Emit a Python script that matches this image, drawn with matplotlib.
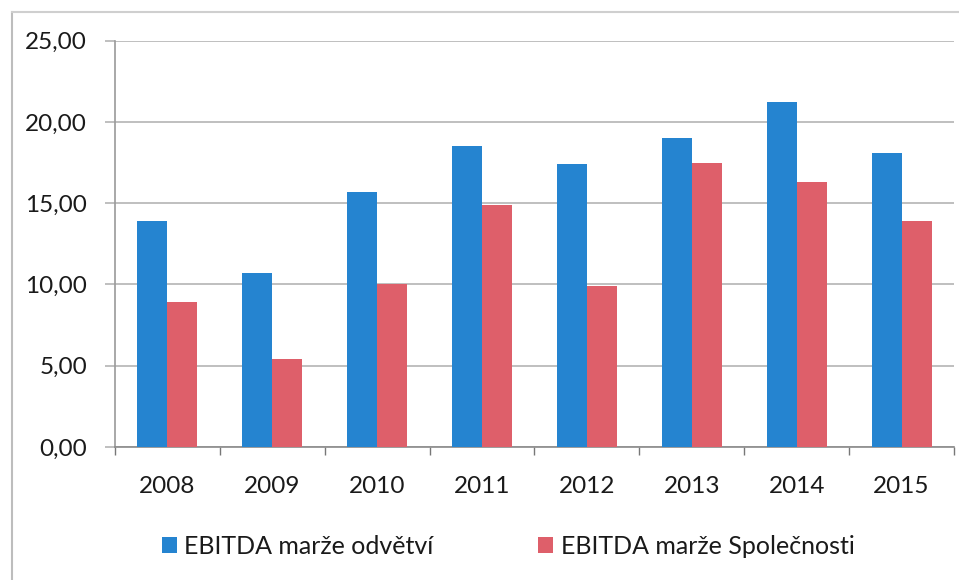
import matplotlib.pyplot as plt
import numpy as np
from matplotlib.lines import Line2D
from matplotlib.ticker import FuncFormatter

# data
years = ['2008', '2009', '2010', '2011', '2012', '2013', '2014', '2015']
odvetvi = [13.9, 10.7, 15.7, 18.5, 17.4, 19.0, 21.2, 18.1]
spolecnosti = [8.9, 5.4, 10.0, 14.9, 9.9, 17.5, 16.3, 13.9]
series_names = ['EBITDA marže odvětví', 'EBITDA marže Společnosti']

BLUE = '#2584d0'
RED = '#de5f6a'
GRID = '#b4b4b4'

plt.rcParams['font.family'] = ['Lato', 'DejaVu Sans']

fig = plt.figure(figsize=(9.59, 5.80), dpi=100)
ax = fig.add_axes([0.1199, 0.2293, 0.8749, 0.7005])

x = np.arange(len(years))
w = 0.286
b1 = ax.bar(x - w / 2, odvetvi, w, color=BLUE, zorder=3)
b2 = ax.bar(x + w / 2, spolecnosti, w, color=RED, zorder=3)

ax.set_xlim(-0.5, len(years) - 0.5)
ax.set_ylim(0, 25)
ax.set_yticks(np.arange(0, 26, 5))
ax.yaxis.set_major_formatter(FuncFormatter(lambda v, p: f'{v:.2f}'.replace('.', ',')))
ax.grid(axis='y', color=GRID, linewidth=1.2, zorder=0)

# year labels at centres, tick marks on category borders
ax.set_xticks(x)
ax.set_xticklabels(years)
ax.set_xticks(np.arange(-0.5, len(years), 1), minor=True)
ax.tick_params(axis='x', which='major', length=0, pad=21, labelsize=17.5, labelcolor='#1a1a1a')
ax.tick_params(axis='x', which='minor', length=6, color='#777777', width=1)
ax.tick_params(axis='y', length=7, color=GRID, width=1.2, pad=13, labelsize=17.5, labelcolor='#1a1a1a')

for s in ['top', 'right']:
    ax.spines[s].set_visible(False)
ax.spines['left'].set_color('#9a9a9a')
ax.spines['bottom'].set_color('#8a8a8a')
ax.spines['left'].set_linewidth(1.2)
ax.spines['bottom'].set_linewidth(1.2)

fig.legend([b1, b2], series_names, loc='center left', bbox_to_anchor=(0.145, 0.058),
           ncol=2, frameon=False, fontsize=18, handlelength=0.6, handleheight=0.6,
           handletextpad=0.3, columnspacing=4.2, labelcolor='#1a1a1a')

# outer chart border (left and top only, as scanned)
fig.add_artist(Line2D([12 / 959, 12 / 959], [0, 1 - 12 / 580], transform=fig.transFigure,
                      color='#bdbdbd', linewidth=1.5))
fig.add_artist(Line2D([12 / 959, 1], [1 - 12 / 580, 1 - 12 / 580], transform=fig.transFigure,
                      color='#cfcfcf', linewidth=1.5))

fig.savefig('out.png', dpi=100)
